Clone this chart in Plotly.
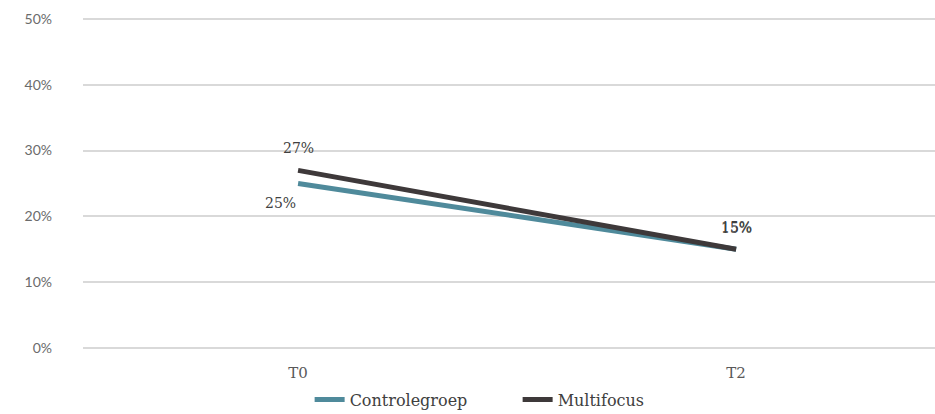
import plotly.graph_objects as go

# Meetmomenten en percentages per groep
momenten = ["T0", "T2"]
controlegroep = [25, 15]
multifocus = [27, 15]
y_ticks = [0, 10, 20, 30, 40, 50]
y_ticklabels = [f"{t}%" for t in y_ticks]

serif = "DejaVu Serif"
label_font = dict(family=serif, size=14, color="#404040")

fig = go.Figure()

fig.add_trace(go.Scatter(
    x=momenten, y=controlegroep, name="Controlegroep",
    mode="lines",
    line=dict(color="#4f8a9b", width=5),
))

fig.add_trace(go.Scatter(
    x=momenten, y=multifocus, name="Multifocus",
    mode="lines",
    line=dict(color="#3e393a", width=5),
))

# Datalabels: controlegroep onder-links bij T0, verder boven het punt
annotations = []
for i, (m, v) in enumerate(zip(momenten, controlegroep)):
    if i == 0:
        annotations.append(dict(x=m, y=v, text=f"{v}%", showarrow=False,
                                xshift=-18, yshift=-19, font=label_font))
    else:
        annotations.append(dict(x=m, y=v, text=f"{v}%", showarrow=False,
                                yshift=21, font=label_font))
for m, v in zip(momenten, multifocus):
    annotations.append(dict(x=m, y=v, text=f"{v}%", showarrow=False,
                            yshift=22, font=label_font))

fig.update_layout(
    width=935, height=414,
    margin=dict(l=83, r=0, t=17, b=64, autoexpand=False),
    plot_bgcolor="white", paper_bgcolor="white",
    showlegend=True,
    annotations=annotations,
    legend=dict(
        orientation="h", x=0.266, xanchor="left",
        yref="container", y=0.035, yanchor="middle",
        font=dict(family=serif, size=16, color="#404040"),
        entrywidth=163, tracegroupgap=0,
    ),
    xaxis=dict(
        type="category", range=[-0.491, 1.454],
        showgrid=False, showline=False, zeroline=False,
        ticks="", ticklabelstandoff=12,
        tickfont=dict(family=serif, size=15, color="#595959"),
    ),
    yaxis=dict(
        range=[-0.3, 50.3], tickmode="array",
        tickvals=y_ticks, ticktext=y_ticklabels,
        showgrid=True, gridcolor="#d9d9d9", gridwidth=1.5,
        zeroline=False, showline=False, ticks="",
        ticklabelstandoff=30,
        tickfont=dict(family="Lato", size=14, color="#6b6b6b"),
    ),
)

fig.write_html("out.html")
